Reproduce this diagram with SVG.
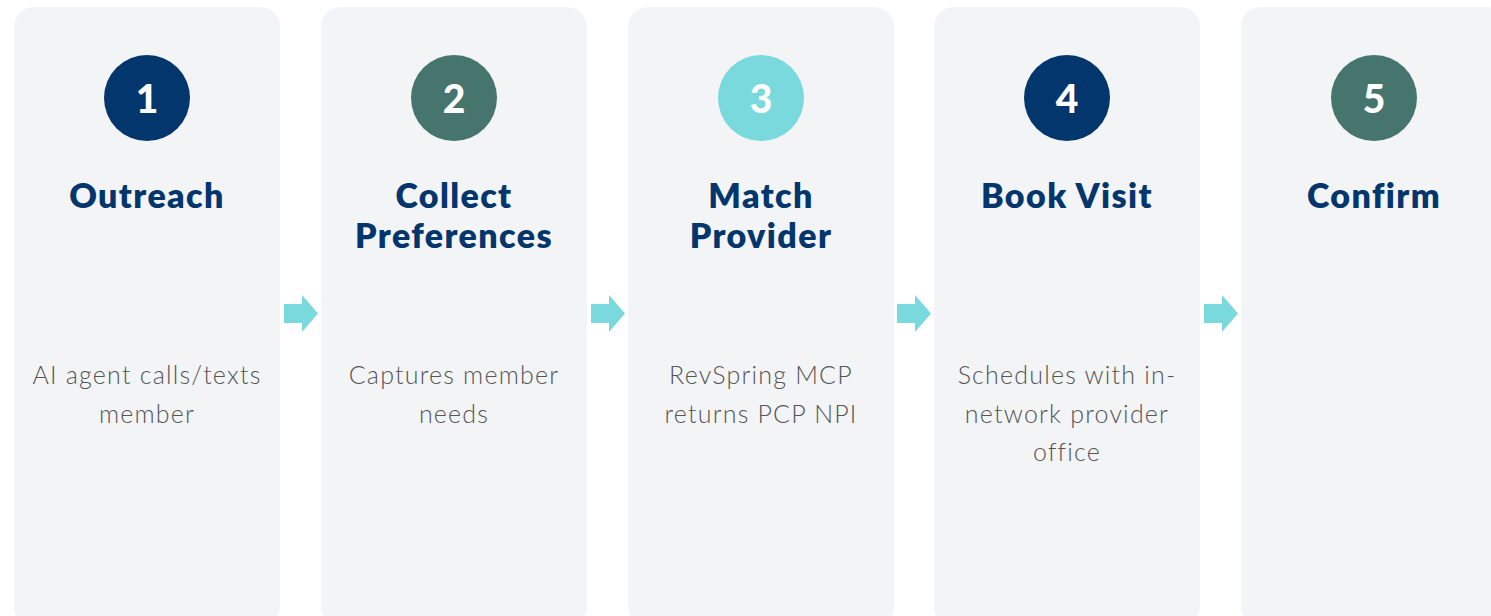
<svg xmlns="http://www.w3.org/2000/svg" width="1491" height="616" viewBox="0 0 1491 616">
<defs>
<style>
.card{fill:#F3F4F6}
.num{font-family:Lato,"Noto Sans",sans-serif;font-weight:900;font-size:39px;fill:#FFFFFF;text-anchor:middle}
.title{font-family:Lato,"Noto Sans",sans-serif;font-weight:800;font-size:34px;fill:#03366C;text-anchor:middle;letter-spacing:1.4px}
.body{font-family:Lato,"Noto Sans",sans-serif;font-weight:300;font-size:25px;fill:#555555;text-anchor:middle;letter-spacing:1.2px}
.navy{fill:#03366C}
.green{fill:#46756D}
.cyan{fill:#7AD9DD}
.arrow{fill:#7AD9DD}
</style>
</defs>
<rect width="1491" height="616" fill="#FFFFFF"/>
<g id="step1">
<rect class="card" x="14" y="7" width="266" height="620" rx="20"/>
<circle class="navy" cx="147" cy="98" r="43"/>
<text class="num" x="147" y="113">1</text>
<text class="title" x="147" y="208">Outreach</text>
<text class="body" x="147" y="384">AI agent calls/texts</text>
<text class="body" x="147" y="423">member</text>
</g>
<g id="step2">
<rect class="card" x="321" y="7" width="266" height="620" rx="20"/>
<circle class="green" cx="454" cy="98" r="43"/>
<text class="num" x="454" y="113">2</text>
<text class="title" x="454" y="208">Collect</text>
<text class="title" x="454" y="248">Preferences</text>
<text class="body" x="454" y="384">Captures member</text>
<text class="body" x="454" y="423">needs</text>
</g>
<g id="step3">
<rect class="card" x="628" y="7" width="266" height="620" rx="20"/>
<circle class="cyan" cx="761" cy="98" r="43"/>
<text class="num" x="761" y="113">3</text>
<text class="title" x="761" y="208">Match</text>
<text class="title" x="761" y="248">Provider</text>
<text class="body" x="761" y="384">RevSpring MCP</text>
<text class="body" x="761" y="423">returns PCP NPI</text>
</g>
<g id="step4">
<rect class="card" x="934" y="7" width="266" height="620" rx="20"/>
<circle class="navy" cx="1067" cy="98" r="43"/>
<text class="num" x="1067" y="113">4</text>
<text class="title" x="1067" y="208">Book Visit</text>
<text class="body" x="1067" y="384">Schedules with in-</text>
<text class="body" x="1067" y="423">network provider</text>
<text class="body" x="1067" y="461">office</text>
</g>
<g id="step5">
<rect class="card" x="1241" y="7" width="266" height="620" rx="20"/>
<circle class="green" cx="1374" cy="98" r="43"/>
<text class="num" x="1374" y="113">5</text>
<text class="title" x="1374" y="208">Confirm</text>
</g>
<g id="connectors">
<polygon class="arrow" points="284,304 302,304 302,295 318,313.5 302,332 302,323 284,323"/>
<polygon class="arrow" points="591,304 609,304 609,295 625,313.5 609,332 609,323 591,323"/>
<polygon class="arrow" points="897,304 915,304 915,295 931,313.5 915,332 915,323 897,323"/>
<polygon class="arrow" points="1204,304 1222,304 1222,295 1238,313.5 1222,332 1222,323 1204,323"/>
</g>
</svg>
